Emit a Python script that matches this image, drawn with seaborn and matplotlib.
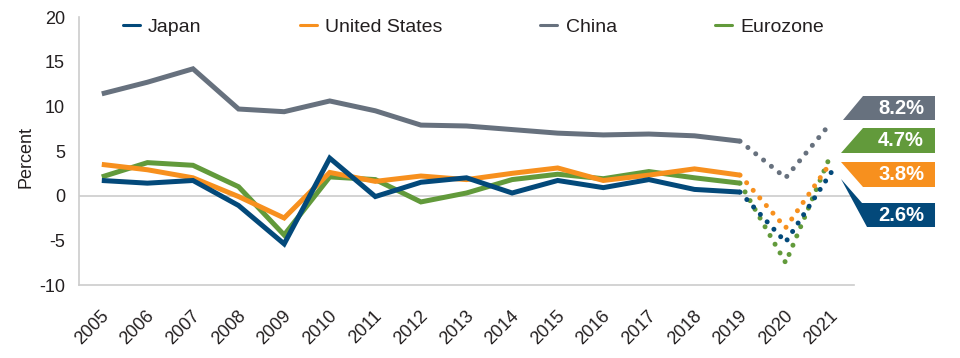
import matplotlib
matplotlib.use('Agg')
import matplotlib.pyplot as plt
from matplotlib.lines import Line2D
from matplotlib.patches import Polygon
from matplotlib.transforms import ScaledTranslation
import seaborn as sns

sns.set_style('white')
plt.rcParams['font.family'] = ['Liberation Sans', 'DejaVu Sans']
plt.rcParams['axes.unicode_minus'] = False

# Data: real GDP growth, percent
years = list(range(2005, 2020))
fc_years = [2019, 2020, 2021]

japan = [1.7, 1.4, 1.7, -1.1, -5.4, 4.2, -0.1, 1.5, 2.0, 0.3, 1.7, 0.9, 1.8, 0.7, 0.4]
us = [3.5, 2.9, 2.0, -0.1, -2.5, 2.6, 1.6, 2.2, 1.8, 2.5, 3.1, 1.7, 2.3, 3.0, 2.3]
china = [11.4, 12.7, 14.2, 9.7, 9.4, 10.6, 9.5, 7.9, 7.8, 7.4, 7.0, 6.8, 6.9, 6.7, 6.1]
euro = [2.1, 3.7, 3.4, 1.0, -4.4, 2.1, 1.8, -0.7, 0.3, 1.8, 2.4, 1.9, 2.7, 2.0, 1.4]

# 2020 / 2021 forecasts
japan_fc = [japan[-1], -5.2, 2.6]
us_fc = [us[-1], -3.6, 3.8]
china_fc = [china[-1], 2.0, 8.2]
euro_fc = [euro[-1], -7.5, 4.7]

names = ['Japan', 'United States', 'China', 'Eurozone']
colors = {'Japan': '#03497A', 'United States': '#F7901E',
          'China': '#67717E', 'Eurozone': '#629A3B'}
series = {'Japan': (japan, japan_fc), 'United States': (us, us_fc),
          'China': (china, china_fc), 'Eurozone': (euro, euro_fc)}
grid_c = '#CCCCCC'
text_c = '#231F20'

fig = plt.figure(figsize=(9.6, 3.58), dpi=100)
ax = fig.add_axes([0.0823, 0.2039, 0.8073, 0.7486])

ax.axhline(0, color=grid_c, lw=1.2, zorder=1)

# draw order: China, Eurozone, US, Japan on top
for i, name in enumerate(['China', 'Eurozone', 'United States', 'Japan']):
    vals, fc = series[name]
    sns.lineplot(x=years, y=vals, ax=ax, color=colors[name], lw=3.6,
                 solid_capstyle='butt', solid_joinstyle='miter', zorder=3 + i)
    sns.lineplot(x=fc_years, y=fc, ax=ax, color=colors[name], lw=3.6,
                 linestyle=(0, (0.01, 2.0)), dash_capstyle='round', zorder=3 + i)

ax.set_xlim(2004.5, 2021.5)
ax.set_ylim(-10, 20)
ax.set_yticks(range(-10, 25, 5))
ax.set_xticks(range(2005, 2022))

for s in ['top', 'right']:
    ax.spines[s].set_visible(False)
for s in ['left', 'bottom']:
    ax.spines[s].set_color(grid_c)
    ax.spines[s].set_linewidth(1.2)

ax.tick_params(axis='y', direction='in', length=13, width=1.2, color=grid_c,
               pad=10, labelsize=13, labelcolor=text_c)
ax.tick_params(axis='x', length=0, pad=20.5, labelsize=13, labelcolor=text_c)
shift = ScaledTranslation(0.044, 0, fig.dpi_scale_trans)
for lab in ax.get_xticklabels():
    lab.set_rotation(45)
    lab.set_ha('right')
    lab.set_va('center')
    lab.set_rotation_mode('anchor')
    lab.set_transform(lab.get_transform() + shift)

ax.set_xlabel('')
ax.set_ylabel('Percent', fontsize=13, color=text_c)
ax.yaxis.set_label_coords(-0.058, 0.478)

# legend
handles = [Line2D([], [], color=colors[n], lw=2.2) for n in names]
fig.legend(handles, names, loc='center left', bbox_to_anchor=(123 / 960, 1 - 27 / 358),
           ncol=4, frameon=False, fontsize=14, handlelength=0.87, handletextpad=0.42,
           columnspacing=5.05, borderpad=0, borderaxespad=0, labelcolor=text_c)


# end-of-line value tags (shapes given in figure pixels, converted to axes fraction)
def fx(px):
    return (px - 79) / 775


def fy(py):
    return (285 - py) / 268


tags = [
    ('China', [(863, 96), (935, 96), (935, 120), (843, 120)], 108),
    ('Eurozone', [(863, 128), (935, 128), (935, 153), (841, 153)], 140.5),
    ('United States', [(841, 162), (935, 162), (935, 187), (863, 187)], 174.5),
    ('Japan', [(841, 179), (862, 203), (935, 203), (935, 227), (867, 227)], 215),
]
for name, pts, cy in tags:
    poly = Polygon([(fx(x), fy(y)) for x, y in pts], closed=True, transform=ax.transAxes,
                   facecolor=colors[name], edgecolor='none', clip_on=False, zorder=10)
    ax.add_patch(poly)
    val = series[name][1][-1]
    ax.text(fx(924), fy(cy), f'{val:.1f}%', transform=ax.transAxes, ha='right', va='center',
            color='white', fontweight='bold', fontsize=14.5, zorder=11)

fig.savefig('out.png', dpi=100)
